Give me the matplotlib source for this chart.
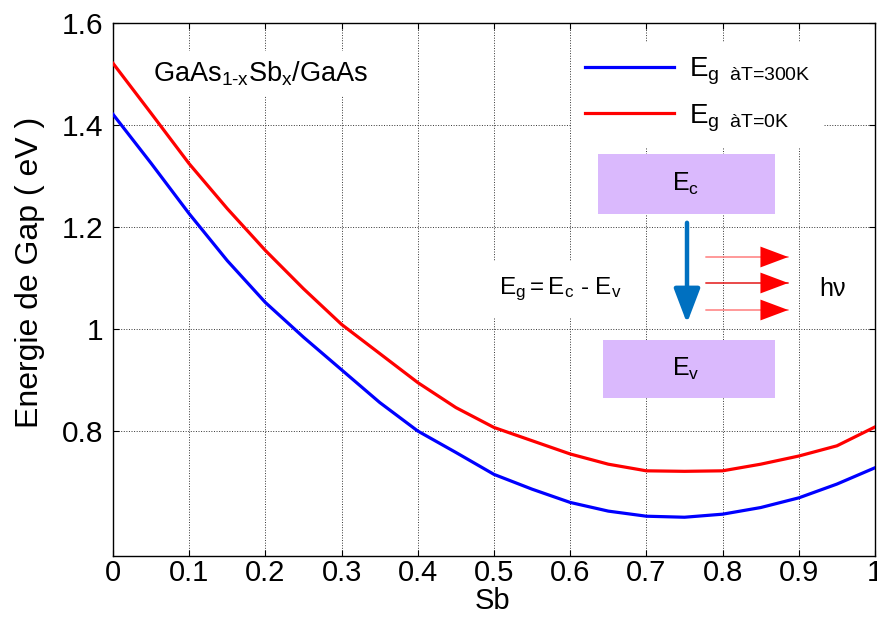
import matplotlib
matplotlib.use("Agg")
import matplotlib.pyplot as plt
from matplotlib.patches import Rectangle, FancyArrowPatch

plt.rcParams['font.family'] = ['Liberation Sans', 'DejaVu Sans']
plt.rcParams['mathtext.fontset'] = 'custom'
plt.rcParams['mathtext.rm'] = 'Liberation Sans'
plt.rcParams['mathtext.it'] = 'Liberation Sans'

# Sb fraction and band gaps (eV)
sb = [0.0, 0.05, 0.1, 0.15, 0.2, 0.25, 0.3, 0.35, 0.4, 0.45, 0.5,
      0.55, 0.6, 0.65, 0.7, 0.75, 0.8, 0.85, 0.9, 0.95, 1.0]
eg_300k = [1.421, 1.325, 1.226, 1.134, 1.052, 0.984, 0.920, 0.856, 0.800, 0.758, 0.715,
           0.686, 0.660, 0.643, 0.633, 0.631, 0.637, 0.650, 0.669, 0.696, 0.728]
eg_0k = [1.521, 1.423, 1.324, 1.236, 1.154, 1.079, 1.009, 0.952, 0.895, 0.846, 0.807,
         0.781, 0.755, 0.735, 0.722, 0.721, 0.722, 0.735, 0.751, 0.771, 0.808]
xticks = [0, 0.1, 0.2, 0.3, 0.4, 0.5, 0.6, 0.7, 0.8, 0.9, 1]
xticklabels = ['0', '0.1', '0.2', '0.3', '0.4', '0.5', '0.6', '0.7', '0.8', '0.9', '1']
yticks = [0.8, 1.0, 1.2, 1.4, 1.6]
yticklabels = ['0.8', '1', '1.2', '1.4', '1.6']

W, H = 878, 617


def px(x, y):
    # pixel position in the figure -> figure fraction
    return x / W, 1 - y / H


fig = plt.figure(figsize=(W / 100, H / 100), dpi=100)
ax = fig.add_axes([113 / W, 1 - 556 / H, (875 - 113) / W, (556 - 23) / H])

ax.plot(sb, eg_300k, color='#0000ff', lw=2.3, zorder=3,
        label=r'$\mathregular{E_{g\ \ \text{àT=300K}}}$')
ax.plot(sb, eg_0k, color='#ff0000', lw=2.3, zorder=3,
        label=r'$\mathregular{E_{g\ \ \text{àT=0K}}}$')

ax.set_xlim(0, 1)
ax.set_ylim(0.555, 1.6)
ax.set_xticks(xticks)
ax.set_xticklabels(xticklabels, fontsize=21)
ax.set_yticks(yticks)
ax.set_yticklabels(yticklabels, fontsize=21.5)
ax.tick_params(direction='in', length=4, width=0.8, top=True, right=True, pad=7)
ax.tick_params(axis='x', pad=2)
ax.grid(True, color='#333333', linestyle=':', linewidth=0.7)
ax.set_axisbelow(True)
for s in ax.spines.values():
    s.set_linewidth(1.0)

fig.text(*px(493, 601), 'Sb', fontsize=21, ha='center', va='center')
fig.text(*px(30, 272), 'Energie de Gap ( eV )', fontsize=23, ha='center', va='center',
         rotation=90)

leg = ax.legend(loc='upper left', fontsize=20,
                handlelength=3.2, handletextpad=0.55, labelspacing=0.55,
                frameon=True, fancybox=False, edgecolor='none', facecolor='white',
                framealpha=1.0, borderpad=0.5)
leg.set_bbox_to_anchor(px(557, 28), transform=fig.transFigure)

ax.text(0.053, 0.905, r'$\mathregular{GaAs_{1\text{-}x}Sb_{x}/GaAs}$', transform=ax.transAxes,
        fontsize=19.5, ha='left', va='center',
        bbox=dict(facecolor='white', edgecolor='none', pad=6))

# band diagram inset
band_color = '#dab9fd'
x0, y0 = px(598, 214)
x1, y1 = px(775, 154)
fig.add_artist(Rectangle((x0, y0), x1 - x0, y1 - y0, transform=fig.transFigure,
                         facecolor=band_color, edgecolor='none', zorder=4))
fig.text(*px(686, 184), r'$\mathregular{E_{c}}$', fontsize=18, ha='center', va='center', zorder=5)
x0, y0 = px(603, 398)
x1, y1 = px(775, 340)
fig.add_artist(Rectangle((x0, y0), x1 - x0, y1 - y0, transform=fig.transFigure,
                         facecolor=band_color, edgecolor='none', zorder=4))
fig.text(*px(686, 369), r'$\mathregular{E_{v}}$', fontsize=18, ha='center', va='center', zorder=5)

fig.add_artist(FancyArrowPatch(px(687, 220), px(687, 326), transform=fig.transFigure,
                               arrowstyle='-|>,head_length=2.1,head_width=0.8',
                               mutation_scale=10, color='#0070c0', lw=3.2, zorder=5))

for yy, c in [(257, '#ff7070'), (283, '#e00000'), (310, '#ff7070')]:
    fig.add_artist(FancyArrowPatch(px(703, yy), px(791, yy), transform=fig.transFigure,
                                   arrowstyle='-', color=c, lw=1.0, zorder=5))
    fig.add_artist(FancyArrowPatch(px(755, yy), px(791, yy), transform=fig.transFigure,
                                   arrowstyle='-|>,head_length=2.0,head_width=0.75',
                                   mutation_scale=10, color='#ff0000', lw=0, zorder=5))

fig.text(*px(833, 289), r'h$\nu$', fontsize=18, ha='center', va='center', zorder=5,
         bbox=dict(facecolor='white', edgecolor='none', pad=8))
fig.text(*px(560, 289), r'$\mathregular{E_{g} = E_{c}\ \text{-}\ E_{v}}$', fontsize=17.5,
         ha='center', va='center', zorder=5,
         bbox=dict(facecolor='white', edgecolor='none', pad=10))

fig.savefig('out.png', dpi=100)
